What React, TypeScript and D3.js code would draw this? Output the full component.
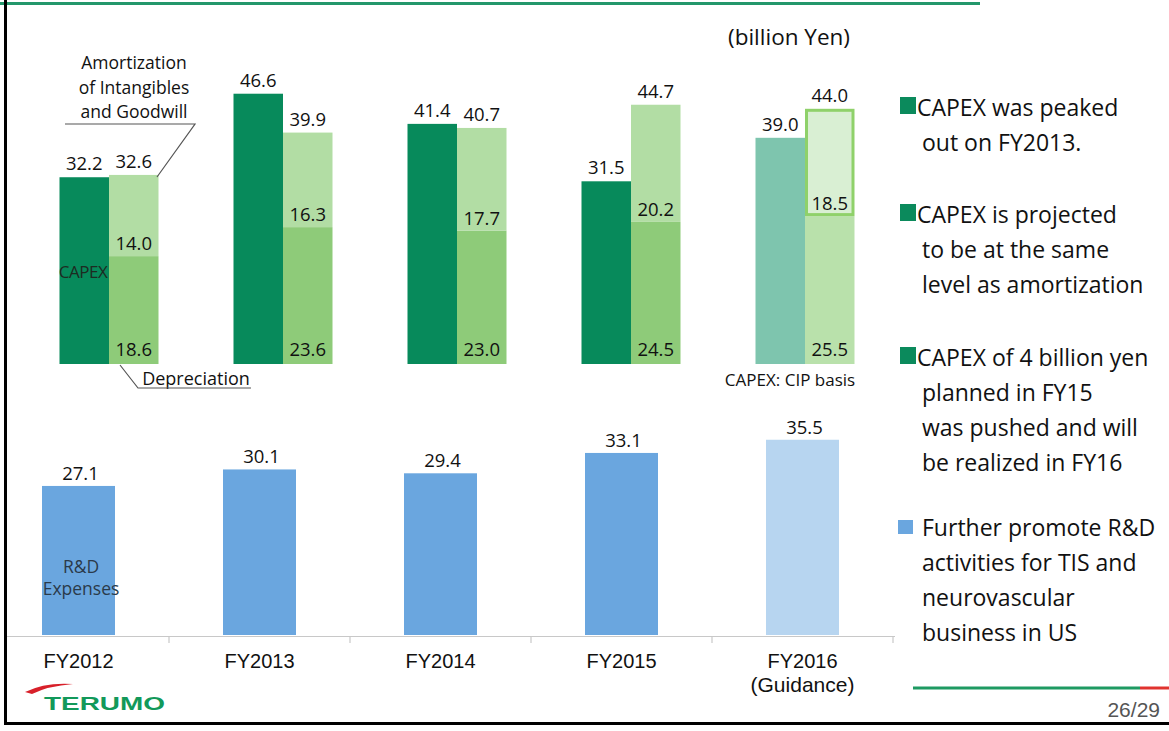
import React from "react";
import * as d3 from "d3";

const categories = ["FY2012", "FY2013", "FY2014", "FY2015", "FY2016"];
const capex = [32.2, 46.6, 41.4, 31.5, 39.0];
const amortTotal = [32.6, 39.9, 40.7, 44.7, 44.0];
const depreciation = [18.6, 23.6, 23.0, 24.5, 25.5];
const amortIntangibles = [14.0, 16.3, 17.7, 20.2, 18.5];
const rdExpenses = [27.1, 30.1, 29.4, 33.1, 35.5];

const bullets = [
  { color: "#0b8a5c", lines: ["CAPEX was peaked", "out on FY2013."], y: 116 },
  { color: "#0b8a5c", lines: ["CAPEX is projected", "to be at the same", "level as amortization"], y: 223 },
  { color: "#0b8a5c", lines: ["CAPEX of 4 billion yen", "planned in FY15", "was pushed and will", "be realized in FY16"], y: 366 },
  { color: "#6aa6df", lines: ["Further promote R&D", "activities for TIS and", "neurovascular", "business in US"], y: 536 },
];

const LBL = "'Open Sans', Lato, sans-serif";
const ARIAL = "'Liberation Sans', Arial, sans-serif";

export default function App() {
  const W = 1169, H = 731;
  // upper chart
  const xU = d3.scaleBand<string>().domain(categories).range([22, 892]);
  const yU = d3.scaleLinear().domain([0, 50]).range([364, 74]);
  const bw = 49.5;
  // lower chart
  const xL = d3.scaleBand<string>().domain(categories).range([-12, 893]);
  const yL = d3.scaleLinear().domain([0, 40]).range([635, 415]);
  const rw = 73;
  const last = categories.length - 1;

  return (
    <svg width={W} height={H} style={{ position: "absolute", left: 0, top: 0, background: "#fff" }} fontFamily={LBL}>
      <rect x={0} y={0} width={W} height={H} fill="#fff" />
      {/* top green line */}
      <line x1={0} x2={980} y1={3.5} y2={3.5} stroke="#23976b" strokeWidth={3} />
      {/* frame */}
      <line x1={5.5} x2={5.5} y1={0} y2={725} stroke="#000" strokeWidth={3} />
      <line x1={4} x2={W} y1={723.5} y2={723.5} stroke="#000" strokeWidth={3} />

      <text x={789} y={45} fontSize={22.5} textAnchor="middle" fill="#111">(billion Yen)</text>

      {/* Upper chart */}
      {categories.map((c, i) => {
        const cx = (xU(c) as number) + xU.bandwidth() / 2;
        const isG = i === last;
        return (
          <g key={c}>
            <rect x={cx - bw} y={yU(capex[i])} width={bw} height={yU(0) - yU(capex[i])} fill={isG ? "#7ec5ae" : "#078a5b"} />
            <rect x={cx} y={yU(depreciation[i])} width={bw} height={yU(0) - yU(depreciation[i])} fill={isG ? "#b9e1ab" : "#8ecb79"} />
            {isG ? (
              <rect x={cx + 1.5} y={yU(amortTotal[i]) + 1.5} width={bw - 3} height={yU(depreciation[i]) - yU(amortTotal[i]) - 3} fill="#d9efd3" stroke="#8fd16a" strokeWidth={3} />
            ) : (
              <rect x={cx} y={yU(amortTotal[i])} width={bw} height={yU(depreciation[i]) - yU(amortTotal[i])} fill="#b2dda4" />
            )}
            <text x={cx - bw / 2} y={yU(capex[i]) - 7} fontSize={18.5} textAnchor="middle" fill="#111">{capex[i].toFixed(1)}</text>
            <text x={cx + bw / 2} y={yU(amortTotal[i]) - 7} fontSize={18.5} textAnchor="middle" fill="#111">{amortTotal[i].toFixed(1)}</text>
            <text x={cx + bw / 2} y={yU(depreciation[i]) - 6} fontSize={18.5} textAnchor="middle" fill="#111">{amortIntangibles[i].toFixed(1)}</text>
            <text x={cx + bw / 2} y={yU(0) - 8} fontSize={18.5} textAnchor="middle" fill="#111">{depreciation[i].toFixed(1)}</text>
          </g>
        );
      })}
      <text x={83} y={278} fontSize={17} textAnchor="middle" fill="#1d2b22" letterSpacing={-0.5}>CAPEX</text>
      {/* amortization annotation */}
      <text fontSize={17.5} fill="#111" textAnchor="middle">
        <tspan x={134} y={69}>Amortization</tspan>
        <tspan x={134} y={94}>of Intangibles</tspan>
        <tspan x={134} y={118}>and Goodwill</tspan>
      </text>
      <polyline points="65,124 195,124 157,177" fill="none" stroke="#555" strokeWidth={1.2} />
      {/* depreciation annotation */}
      <text x={196} y={385} fontSize={18} textAnchor="middle" fill="#111">Depreciation</text>
      <polyline points="120,365 138,388 251,388" fill="none" stroke="#555" strokeWidth={1.2} />
      <text x={790} y={386} fontSize={17} textAnchor="middle" fill="#111">CAPEX: CIP basis</text>

      {/* Lower chart */}
      {categories.map((c, i) => {
        const cx = (xL(c) as number) + xL.bandwidth() / 2;
        return (
          <g key={"rd" + c}>
            <rect x={cx - rw / 2} y={yL(rdExpenses[i])} width={rw} height={yL(0) - yL(rdExpenses[i])} fill={i === last ? "#b7d5f0" : "#6aa6df"} />
            <text x={cx + 2} y={yL(rdExpenses[i]) - 6} fontSize={18.5} textAnchor="middle" fill="#111">{rdExpenses[i].toFixed(1)}</text>
          </g>
        );
      })}
      <text fontSize={17.5} textAnchor="middle" fill="#2a3a4a">
        <tspan x={81} y={573}>R&amp;D</tspan>
        <tspan x={81} y={595}>Expenses</tspan>
      </text>
      {/* axis */}
      <line x1={7} x2={895} y1={636.5} y2={636.5} stroke="#c8c8c8" strokeWidth={1.2} />
      {categories.map((c) => {
        const x = (xL(c) as number) + xL.bandwidth();
        return <line key={"t" + c} x1={x} x2={x} y1={636.5} y2={643} stroke="#c8c8c8" strokeWidth={1.2} />;
      })}
      {categories.map((c, i) => {
        const cx = (xL(c) as number) + xL.bandwidth() / 2;
        return (
          <text key={"l" + c} fontFamily={ARIAL} fontSize={20} textAnchor="middle" fill="#111">
            <tspan x={cx} y={668}>{c}</tspan>
            {i === last ? <tspan x={cx} y={692} fontSize={21}>(Guidance)</tspan> : null}
          </text>
        );
      })}

      {/* bullets */}
      {bullets.map((b, bi) => (
        <g key={"b" + bi}>
          <rect x={bi === 3 ? 898 : 900} y={b.y - (bi === 3 ? 16 : 19)} width={bi === 3 ? 15 : 16} height={bi === 3 ? 14 : 17} fill={b.color} />
          {b.lines.map((l, li) => (
            <text key={li} x={li === 0 ? (bi === 3 ? 922 : 917) : 922} y={b.y + li * 35} fontSize={23} fill="#111">{l}</text>
          ))}
        </g>
      ))}

      {/* footer */}
      <line x1={913} x2={1140} y1={688} y2={688} stroke="#1e9a62" strokeWidth={3} />
      <line x1={1140} x2={W} y1={688} y2={688} stroke="#e0332e" strokeWidth={3} />
      <text x={1160} y={717} fontFamily={ARIAL} fontSize={21} textAnchor="end" fill="#555">26/29</text>
      {/* logo */}
      <path d="M25,692 Q45,682 73,684 Q48,686 32,694 Z" fill="#d8202a" />
      <text x={44} y={710} fontFamily={ARIAL} fontWeight="bold" fontSize={18} fill="#12995a" textLength={121} lengthAdjust="spacingAndGlyphs">TERUMO</text>
    </svg>
  );
}
